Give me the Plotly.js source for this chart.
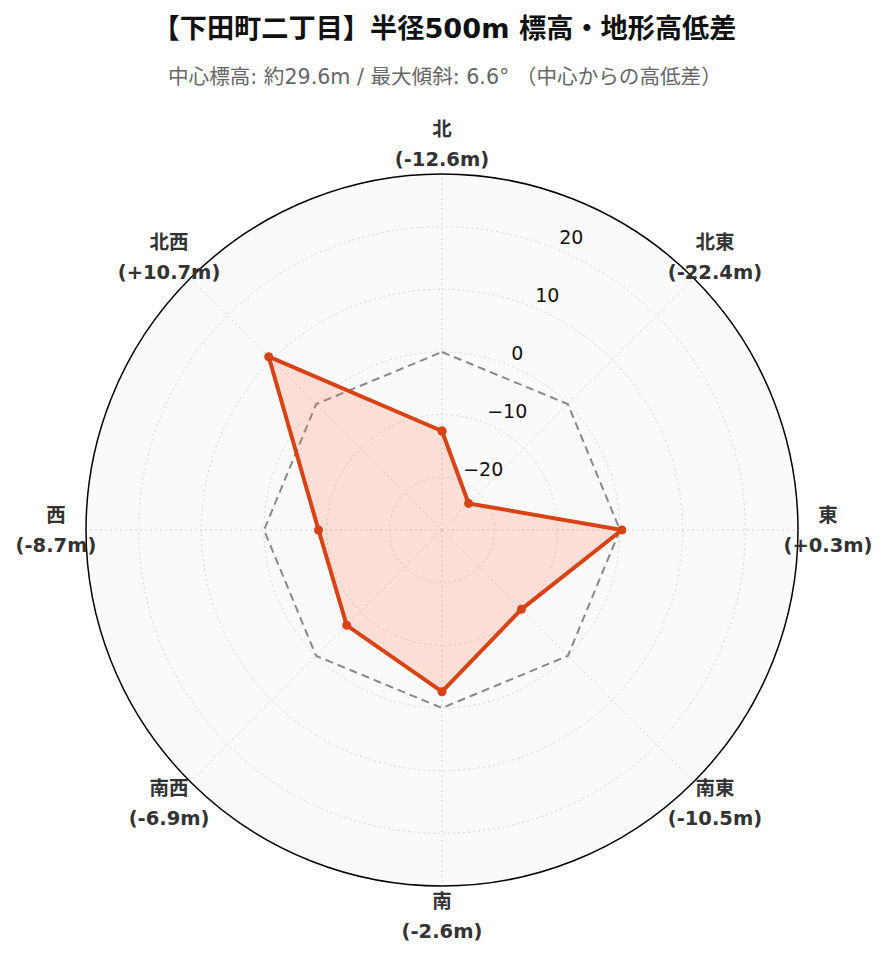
<!DOCTYPE html>
<html>
<head>
<meta charset="utf-8">
<script src="https://cdn.plot.ly/plotly-3.0.1.min.js"></script>
<style>html,body{margin:0;padding:0;background:#fff;}</style>
</head>
<body>
<div id="chart" style="width:889px;height:962px;"></div>
<script>
const directions = ["北", "北東", "東", "南東", "南", "南西", "西", "北西"];
const diffs = [-12.6, -22.4, 0.3, -10.5, -2.6, -6.9, -8.7, 10.7];
const zeroLine = [0, 0, 0, 0, 0, 0, 0, 0];
const radialTicks = [-20, -10, 0, 10, 20];
const titleText = "【下田町二丁目】半径500m 標高・地形高低差";
const subtitleText = "中心標高: 約29.6m / 最大傾斜: 6.6° （中心からの高低差）";

const n = directions.length;
const thetas = directions.map((_, i) => i * 360 / n);
const fmt = v => (v > 0 ? "+" : "") + v.toFixed(1);
const nameLabels = directions.map(d => "<b>" + d + "</b>");
const valueLabels = diffs.map(v => "<b>(" + fmt(v) + "m)</b>");
const closeArr = a => a.concat([a[0]]);

const maxAbs = Math.max(...diffs.map(Math.abs));
const rMax = maxAbs + 6;
const rTickTheta = 360 / n / 2;
const fmtTick = v => (v < 0 ? "\u2212" + Math.abs(v) : String(v));

const font = "DejaVu Sans, Noto Sans CJK JP, sans-serif";

// page geometry
const W = 889, H = 962;
const cx = 442, cy = 530, R = 356;          // main polar
const labelRatio = 386 / 356;               // label ring relative to main radius
const R2 = R * labelRatio * 1.1;            // outer label polar (labels sit at r = 1 of range [0,1.1])
const dom = (rad) => ({
  x: [(cx - rad) / W, (cx + rad) / W],
  y: [(H - cy - rad) / H, (H - cy + rad) / H]
});

const labelFont = {family: font, size: 19.5, color: "#333"};
const labelTrace = (text, pos, gap) => ({
  type: "scatterpolar",
  subplot: "polar2",
  r: thetas.map(() => 1),
  theta: thetas,
  mode: "markers+text",
  marker: {size: gap, opacity: 0},
  text: text,
  textposition: pos,
  textfont: labelFont,
  cliponaxis: false,
  hoverinfo: "skip",
  showlegend: false
});

const traces = [
  {
    type: "scatterpolar",
    r: closeArr(zeroLine),
    theta: closeArr(thetas),
    mode: "lines",
    line: {color: "#888888", width: 2, dash: "8px,5px"},
    hoverinfo: "skip",
    showlegend: false
  },
  {
    type: "scatterpolar",
    r: closeArr(diffs),
    theta: closeArr(thetas),
    mode: "lines+markers",
    fill: "toself",
    fillcolor: "rgba(255,112,67,0.2)",
    line: {color: "#d84315", width: 4},
    marker: {color: "#d84315", size: 9},
    showlegend: false
  },
  {
    type: "scatterpolar",
    r: radialTicks,
    theta: radialTicks.map(() => rTickTheta),
    mode: "markers+text",
    marker: {size: 0.1, opacity: 0},
    text: radialTicks.map(fmtTick),
    textposition: "top right",
    textfont: {family: font, size: 19, color: "#111"},
    cliponaxis: false,
    hoverinfo: "skip",
    showlegend: false
  },
  labelTrace(nameLabels, "top center", 2.8),
  labelTrace(valueLabels, "bottom center", 10.8)
];

const hiddenAxis = {
  showline: false, showgrid: false, showticklabels: false, ticks: ""
};

const layout = {
  width: W,
  height: H,
  paper_bgcolor: "#ffffff",
  font: {family: font, color: "#444"},
  margin: {l: 0, r: 0, t: 0, b: 0},
  showlegend: false,
  title: {
    text: "<b>" + titleText + "</b>",
    font: {family: font, size: 27.2, color: "#111"},
    x: 0.5, xanchor: "center",
    y: 1 - 28 / H, yanchor: "middle"
  },
  annotations: [{
    text: subtitleText,
    xref: "paper", yref: "paper",
    x: 0.5, y: 1 - 77 / H,
    xanchor: "center", yanchor: "middle",
    showarrow: false,
    font: {family: font, size: 20.6, color: "#666"}
  }],
  polar2: {
    bgcolor: "rgba(0,0,0,0)",
    domain: dom(R2),
    angularaxis: Object.assign({rotation: 90, direction: "clockwise", tickvals: thetas}, hiddenAxis),
    radialaxis: Object.assign({range: [0, 1.1]}, hiddenAxis)
  },
  polar: {
    bgcolor: "#fafafa",
    domain: dom(R),
    angularaxis: {
      rotation: 90,
      direction: "clockwise",
      tickvals: thetas,
      showticklabels: false,
      showline: true,
      linecolor: "#000",
      linewidth: 1.5,
      gridcolor: "#d6d6d6",
      griddash: "2px,3px",
      ticks: ""
    },
    radialaxis: {
      range: [-rMax, rMax],
      tickvals: radialTicks,
      showticklabels: false,
      angle: 90 - rTickTheta,
      showline: false,
      ticks: "",
      gridcolor: "#d6d6d6",
      griddash: "2px,3px"
    }
  }
};

Plotly.newPlot("chart", traces, layout, {displayModeBar: false});
</script>
</body>
</html>
